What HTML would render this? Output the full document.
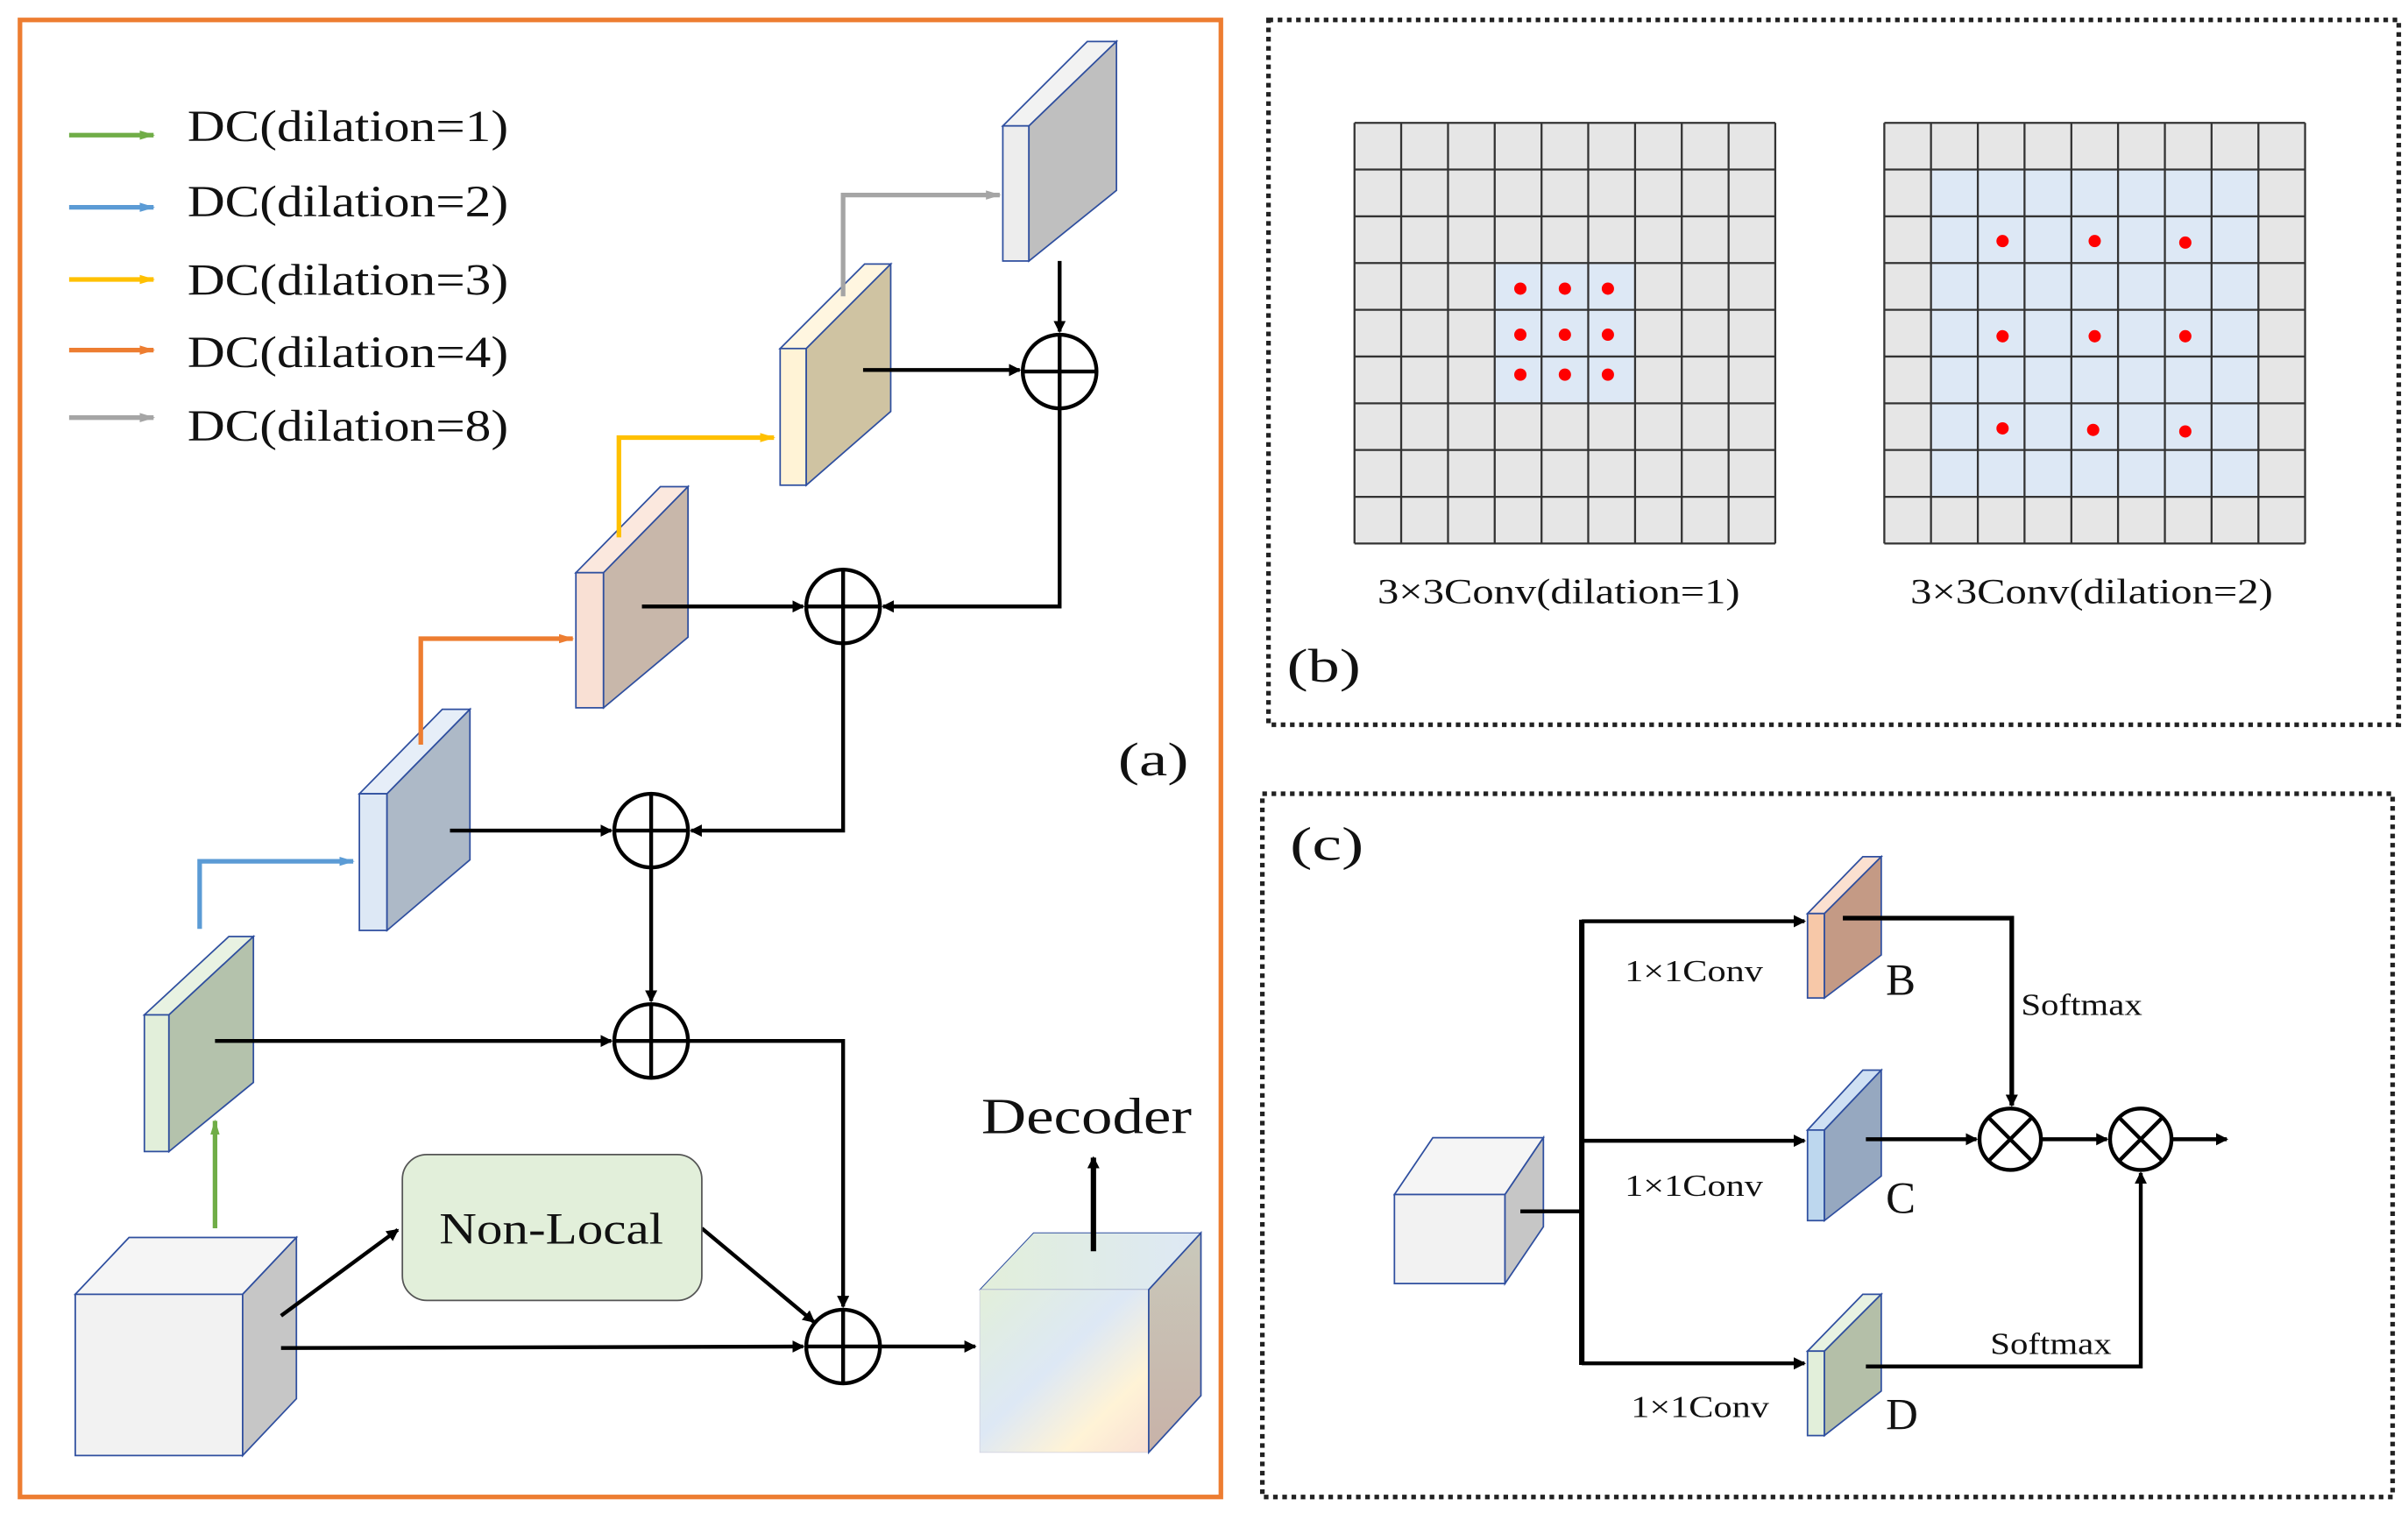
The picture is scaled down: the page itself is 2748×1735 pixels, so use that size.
<!DOCTYPE html>
<html><head><meta charset="utf-8"><style>
html,body{margin:0;padding:0;background:#fff;}
svg{display:block;}
text{font-family:"Liberation Serif",serif;fill:#111;}
</style></head><body>
<svg width="2748" height="1735" viewBox="0 0 1568 990" xmlns="http://www.w3.org/2000/svg">
<defs>
<marker id="ak" markerWidth="8" markerHeight="8" refX="7" refY="4" orient="auto" markerUnits="userSpaceOnUse"><path d="M0,0 L8,4 L0,8 Z" fill="#000"/></marker>
<marker id="ag" markerWidth="10" markerHeight="8" refX="9" refY="4" orient="auto" markerUnits="userSpaceOnUse"><path d="M0,1 L10,4 L0,7 Z" fill="#70ad47"/></marker>
<marker id="ab" markerWidth="10" markerHeight="8" refX="9" refY="4" orient="auto" markerUnits="userSpaceOnUse"><path d="M0,1 L10,4 L0,7 Z" fill="#5b9bd5"/></marker>
<marker id="ay" markerWidth="10" markerHeight="8" refX="9" refY="4" orient="auto" markerUnits="userSpaceOnUse"><path d="M0,1 L10,4 L0,7 Z" fill="#ffc000"/></marker>
<marker id="ao" markerWidth="10" markerHeight="8" refX="9" refY="4" orient="auto" markerUnits="userSpaceOnUse"><path d="M0,1 L10,4 L0,7 Z" fill="#ed7d31"/></marker>
<marker id="ay2" markerWidth="10" markerHeight="8" refX="9" refY="4" orient="auto" markerUnits="userSpaceOnUse"><path d="M0,1 L10,4 L0,7 Z" fill="#a5a5a5"/></marker>
<linearGradient id="gout" x1="0" y1="0" x2="1" y2="1">
<stop offset="0" stop-color="#e2efda"/><stop offset="0.45" stop-color="#dde8f5"/><stop offset="0.75" stop-color="#fff3d6"/><stop offset="1" stop-color="#f9e0d4"/></linearGradient>
<linearGradient id="gtop" x1="0" y1="0" x2="1" y2="0">
<stop offset="0" stop-color="#e2efda"/><stop offset="1" stop-color="#dde8f5"/></linearGradient>
<linearGradient id="gside" x1="0" y1="0" x2="0" y2="1">
<stop offset="0" stop-color="#c9c9bb"/><stop offset="1" stop-color="#c8b2a8"/></linearGradient>
</defs>

<rect x="13" y="13" width="782" height="962" fill="none" stroke="#ed7d31" stroke-width="3"/>

<g stroke-width="3">
<line x1="45" y1="88" x2="100" y2="88" stroke="#70ad47" marker-end="url(#ag)"/>
<line x1="45" y1="135" x2="100" y2="135" stroke="#5b9bd5" marker-end="url(#ab)"/>
<line x1="45" y1="182" x2="100" y2="182" stroke="#ffc000" marker-end="url(#ay)"/>
<line x1="45" y1="228" x2="100" y2="228" stroke="#ed7d31" marker-end="url(#ao)"/>
<line x1="45" y1="272" x2="100" y2="272" stroke="#a5a5a5" marker-end="url(#ay2)"/>
</g>
<g font-size="29">
<text x="122" y="92" textLength="209" lengthAdjust="spacingAndGlyphs">DC(dilation=1)</text>
<text x="122" y="141" textLength="209" lengthAdjust="spacingAndGlyphs">DC(dilation=2)</text>
<text x="122" y="192" textLength="209" lengthAdjust="spacingAndGlyphs">DC(dilation=3)</text>
<text x="122" y="239" textLength="209" lengthAdjust="spacingAndGlyphs">DC(dilation=4)</text>
<text x="122" y="287" textLength="209" lengthAdjust="spacingAndGlyphs">DC(dilation=8)</text>
</g>

<g stroke="#2f4f9f" stroke-width="1">
<polygon points="94,661 149,610 165,610 110,661" fill="#e8f2e2"/>
<rect x="94" y="661" width="16" height="89" fill="#e2efda"/>
<polygon points="110,661 165,610 165,705 110,750" fill="#b4c2ac"/>
<polygon points="234,517 288,462 306,462 252,517" fill="#e6eef8"/>
<rect x="234" y="517" width="18" height="89" fill="#dde8f5"/>
<polygon points="252,517 306,462 306,560 252,606" fill="#adb9c7"/>
<polygon points="375,373 430,317 448,317 393,373" fill="#fbe8de"/>
<rect x="375" y="373" width="18" height="88" fill="#f9e0d4"/>
<polygon points="393,373 448,317 448,415 393,461" fill="#c8b7aa"/>
<polygon points="508,227 563,172 580,172 525,227" fill="#fff6e0"/>
<rect x="508" y="227" width="17" height="89" fill="#fff3d6"/>
<polygon points="525,227 580,172 580,268 525,316" fill="#cfc3a2"/>
<polygon points="653,82 708,27 727,27 670,82" fill="#f2f2f2"/>
<rect x="653" y="82" width="17" height="88" fill="#ededed"/>
<polygon points="670,82 727,27 727,124 670,170" fill="#bfbfbf"/>
<polygon points="49,843 84,806 193,806 158,843" fill="#f5f5f5"/>
<rect x="49" y="843" width="109" height="105" fill="#f2f2f2"/>
<polygon points="158,843 193,806 193,911 158,948" fill="#c6c6c6"/>
<polygon points="638,840 673,803 782,803 748,840" fill="url(#gtop)" stroke-width="0.6"/>
<rect x="638" y="840" width="110" height="106" fill="url(#gout)" stroke-width="0.4" stroke="#ccd"/>
<polygon points="748,840 782,803 782,909 748,946" fill="url(#gside)"/>
</g>

<g fill="none" stroke-width="3">
<polyline points="130,605 130,561 230,561" stroke="#5b9bd5" marker-end="url(#ab)"/>
<polyline points="274,485 274,416 373,416" stroke="#ed7d31" marker-end="url(#ao)"/>
<polyline points="403,350 403,285 504,285" stroke="#ffc000" marker-end="url(#ay)"/>
<polyline points="549,193 549,127 651,127" stroke="#a5a5a5" marker-end="url(#ay2)"/>
<line x1="140" y1="800" x2="140" y2="730" stroke="#70ad47" marker-end="url(#ag)"/>
</g>

<g fill="none" stroke="#000" stroke-width="2.5">
<line x1="690" y1="170" x2="690" y2="216" marker-end="url(#ak)"/>
<line x1="562" y1="241" x2="664" y2="241" marker-end="url(#ak)"/>
<polyline points="690,266 690,395 575,395" marker-end="url(#ak)"/>
<line x1="418" y1="395" x2="523" y2="395" marker-end="url(#ak)"/>
<polyline points="549,419 549,541 450,541" marker-end="url(#ak)"/>
<line x1="293" y1="541" x2="398" y2="541" marker-end="url(#ak)"/>
<line x1="424" y1="565" x2="424" y2="652" marker-end="url(#ak)"/>
<line x1="140" y1="678" x2="398" y2="678" marker-end="url(#ak)"/>
<polyline points="448,678 549,678 549,851" marker-end="url(#ak)"/>
<line x1="183" y1="878" x2="523" y2="877" marker-end="url(#ak)"/>
<line x1="183" y1="857" x2="259" y2="801" marker-end="url(#ak)"/>
<line x1="457" y1="800" x2="530" y2="861" marker-end="url(#ak)"/>
<line x1="573" y1="877" x2="635" y2="877" marker-end="url(#ak)"/>
<line x1="712" y1="815" x2="712" y2="754" stroke-width="3.5" marker-end="url(#ak)"/>
</g>

<g fill="#fff" stroke="#000" stroke-width="2.5">
<circle cx="690" cy="242" r="24"/><circle cx="549" cy="395" r="24"/><circle cx="424" cy="541" r="24"/><circle cx="424" cy="678" r="24"/><circle cx="549" cy="877" r="24"/>
</g>
<g stroke="#000" stroke-width="2.5">
<path d="M666,242h48M690,218v48"/>
<path d="M525,395h48M549,371v48"/>
<path d="M400,541h48M424,517v48"/>
<path d="M400,678h48M424,654v48"/>
<path d="M525,877h48M549,853v48"/>
</g>

<rect x="262" y="752" width="195" height="95" rx="16" fill="#e2efda" stroke="#555" stroke-width="1"/>
<text x="286" y="810" font-size="29" textLength="146" lengthAdjust="spacingAndGlyphs">Non-Local</text>
<text x="728" y="505" font-size="31" textLength="46" lengthAdjust="spacingAndGlyphs">(a)</text>
<text x="639" y="738" font-size="33" textLength="137" lengthAdjust="spacingAndGlyphs">Decoder</text>

<rect x="826" y="13" width="736" height="459" fill="none" stroke="#222" stroke-width="3" stroke-dasharray="3,3"/>
<rect x="882" y="80" width="274" height="274" fill="#e6e6e6"/>
<rect x="973" y="171" width="91" height="91" fill="#dde8f5"/>
<rect x="1227" y="80" width="274" height="274" fill="#e6e6e6"/>
<rect x="1257" y="110" width="213" height="213" fill="#dde8f5"/>
<g stroke="#333" stroke-width="1.3" fill="none">
<path d="M882,80h274M882,110.4h274M882,140.9h274M882,171.3h274M882,201.8h274M882,232.2h274M882,262.7h274M882,293.1h274M882,323.6h274M882,354h274
M882,80v274M912.4,80v274M942.9,80v274M973.3,80v274M1003.8,80v274M1034.2,80v274M1064.7,80v274M1095.1,80v274M1125.6,80v274M1156,80v274"/>
<path d="M1227,80h274M1227,110.4h274M1227,140.9h274M1227,171.3h274M1227,201.8h274M1227,232.2h274M1227,262.7h274M1227,293.1h274M1227,323.6h274M1227,354h274
M1227,80v274M1257.4,80v274M1287.9,80v274M1318.3,80v274M1348.8,80v274M1379.2,80v274M1409.7,80v274M1440.1,80v274M1470.6,80v274M1501,80v274"/>
</g>
<g fill="#f00">
<circle cx="990" cy="188" r="4"/><circle cx="1019" cy="188" r="4"/><circle cx="1047" cy="188" r="4"/>
<circle cx="990" cy="218" r="4"/><circle cx="1019" cy="218" r="4"/><circle cx="1047" cy="218" r="4"/>
<circle cx="990" cy="244" r="4"/><circle cx="1019" cy="244" r="4"/><circle cx="1047" cy="244" r="4"/>
<circle cx="1304" cy="157" r="4"/><circle cx="1364" cy="157" r="4"/><circle cx="1423" cy="158" r="4"/>
<circle cx="1304" cy="219" r="4"/><circle cx="1364" cy="219" r="4"/><circle cx="1423" cy="219" r="4"/>
<circle cx="1304" cy="279" r="4"/><circle cx="1363" cy="280" r="4"/><circle cx="1423" cy="281" r="4"/>
</g>
<text x="897" y="393" font-size="23" textLength="236" lengthAdjust="spacingAndGlyphs">3×3Conv(dilation=1)</text>
<text x="1244" y="393" font-size="23" textLength="236" lengthAdjust="spacingAndGlyphs">3×3Conv(dilation=2)</text>
<text x="838" y="444" font-size="31" textLength="48" lengthAdjust="spacingAndGlyphs">(b)</text>

<rect x="822" y="517" width="736" height="458" fill="none" stroke="#222" stroke-width="3" stroke-dasharray="3,3"/>
<text x="840" y="560" font-size="31" textLength="48" lengthAdjust="spacingAndGlyphs">(c)</text>
<g stroke="#2f4f9f" stroke-width="1">
<polygon points="908,778 933,741 1005,741 980,778" fill="#f5f5f5"/>
<rect x="908" y="778" width="72" height="58" fill="#f2f2f2"/>
<polygon points="980,778 1005,741 1005,799 980,836" fill="#c6c6c6"/>
<polygon points="1177,595 1213,558 1225,558 1188,595" fill="#fbe0d0"/>
<rect x="1177" y="595" width="11" height="55" fill="#f4b183" fill-opacity="0.7"/>
<polygon points="1188,595 1225,558 1225,622 1188,650" fill="#c49a85"/>
<polygon points="1177,736 1213,697 1225,697 1188,736" fill="#cfe0f3"/>
<rect x="1177" y="736" width="11" height="59" fill="#bdd7ee"/>
<polygon points="1188,736 1225,697 1225,766 1188,795" fill="#96a8c0"/>
<polygon points="1177,880 1213,843 1225,843 1188,880" fill="#e8f2e2"/>
<rect x="1177" y="880" width="11" height="55" fill="#e2efda"/>
<polygon points="1188,880 1225,843 1225,906 1188,935" fill="#b4bfa8"/>
</g>
<g fill="none" stroke="#000" stroke-width="2.5">
<line x1="990" y1="789" x2="1030" y2="789"/>
<line x1="1030" y1="599" x2="1030" y2="889" stroke-width="3.5"/>
<line x1="1030" y1="600" x2="1175" y2="600" marker-end="url(#ak)"/>
<line x1="1030" y1="743" x2="1175" y2="743" marker-end="url(#ak)"/>
<line x1="1030" y1="888" x2="1175" y2="888" marker-end="url(#ak)"/>
<polyline points="1200,598 1310,598 1310,720" stroke-width="3" marker-end="url(#ak)"/>
<line x1="1215" y1="742" x2="1287" y2="742" marker-end="url(#ak)"/>
<line x1="1329" y1="742" x2="1372" y2="742" marker-end="url(#ak)"/>
<line x1="1414" y1="742" x2="1450" y2="742" marker-end="url(#ak)"/>
<polyline points="1215,890 1394,890 1394,764" marker-end="url(#ak)"/>
<circle cx="1309" cy="742" r="20" fill="#fff"/>
<circle cx="1394" cy="742" r="20" fill="#fff"/>
<path d="M1295,728l28,28M1323,728l-28,28M1380,728l28,28M1408,728l-28,28"/>
</g>
<g font-size="20">
<text x="1058" y="639" textLength="90" lengthAdjust="spacingAndGlyphs">1×1Conv</text>
<text x="1058" y="779" textLength="90" lengthAdjust="spacingAndGlyphs">1×1Conv</text>
<text x="1062" y="923" textLength="90" lengthAdjust="spacingAndGlyphs">1×1Conv</text>
<text x="1316" y="661" textLength="79" lengthAdjust="spacingAndGlyphs">Softmax</text>
<text x="1296" y="882" textLength="79" lengthAdjust="spacingAndGlyphs">Softmax</text>
</g>
<g font-size="29">
<text x="1228" y="648">B</text>
<text x="1228" y="790">C</text>
<text x="1228" y="931">D</text>
</g>
</svg>
</body></html>
